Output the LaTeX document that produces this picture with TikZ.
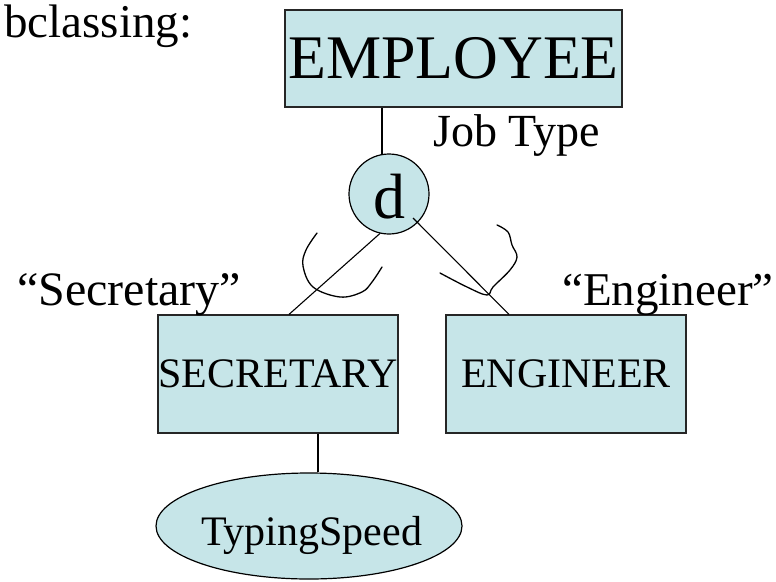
\documentclass[tikz,border=0pt]{standalone}
\usepackage{fontspec}
\setmainfont{Liberation Serif}
\usetikzlibrary{shapes.geometric}
\definecolor{entfill}{RGB}{198,229,232}
\newcommand{\fs}[1]{\fontsize{#1}{#1}\selectfont}
\begin{document}
\begin{tikzpicture}[x=1pt,y=-1pt,
  ent/.style={draw=black!85, line width=1.2pt, fill=entfill, rectangle, inner sep=0pt},
  disj/.style={draw=black, line width=1.2pt, fill=entfill, circle, inner sep=0pt, minimum size=80pt},
  attr/.style={draw=black, line width=1.2pt, fill=entfill, ellipse, inner sep=0pt},
  conn/.style={line width=1.1pt},
  lbl/.style={inner sep=0pt, anchor=base west}]
  \useasboundingbox (0,0) rectangle (776,581);

  % title
  \node[lbl] (title) at (4,37) {\fs{47}bclassing:};

  % superclass, disjointness circle and subclasses
  \node[ent, minimum width=337pt, minimum height=97pt] (employee) at (453.5,58.5) {\fs{62}EMPLOYEE};
  \node[disj, text height=48pt, text depth=0pt] (d) at (389,194) {\fs{64}d};
  \node[ent, minimum width=240pt, minimum height=118pt] (secretary) at (278,374) {\fs{42}SECRETARY};
  \node[ent, minimum width=240pt, minimum height=118pt] (engineer) at (566,374) {\fs{42}ENGINEER};
  \node[attr, minimum width=306pt, minimum height=106pt] (speed) at (309,526) {};
  \node[lbl] (speedtxt) at (201,545) {\fs{42}TypingSpeed};

  % defining attribute and its values
  \node[lbl] (jobtype) at (433,146) {\fs{46}Job Type};
  \node[lbl] (secval) at (17,305) {\fs{48}“Secretary”};
  \node[lbl] (engval) at (562,305) {\fs{47}“Engineer”};

  % connectors
  \draw[conn] (d.100) -- (d.100 |- employee.south);
  \draw[conn] (d.257) -- ([xshift=11pt]secretary.north);
  \draw[conn] ([shift={(24pt,-24pt)}]d.center) -- ([xshift=-57pt]engineer.north);
  \draw[conn] ([xshift=40pt]secretary.south) -- ([xshift=40pt]secretary.south |- speed.north);

  % hand-drawn subset marks
  \draw[line width=1.3pt, line cap=round] plot[smooth, tension=0.6] coordinates
    {(317,233) (306,250) (303,266) (313,287) (340,297) (362,292) (372,282) (382,267)};
  \draw[line width=1.3pt, line cap=round] plot[smooth, tension=0.6] coordinates
    {(497,225) (508,232) (512,245) (517,257) (510,270) (493,287) (487,295) (467,287) (440,273)};
\end{tikzpicture}
\end{document}
